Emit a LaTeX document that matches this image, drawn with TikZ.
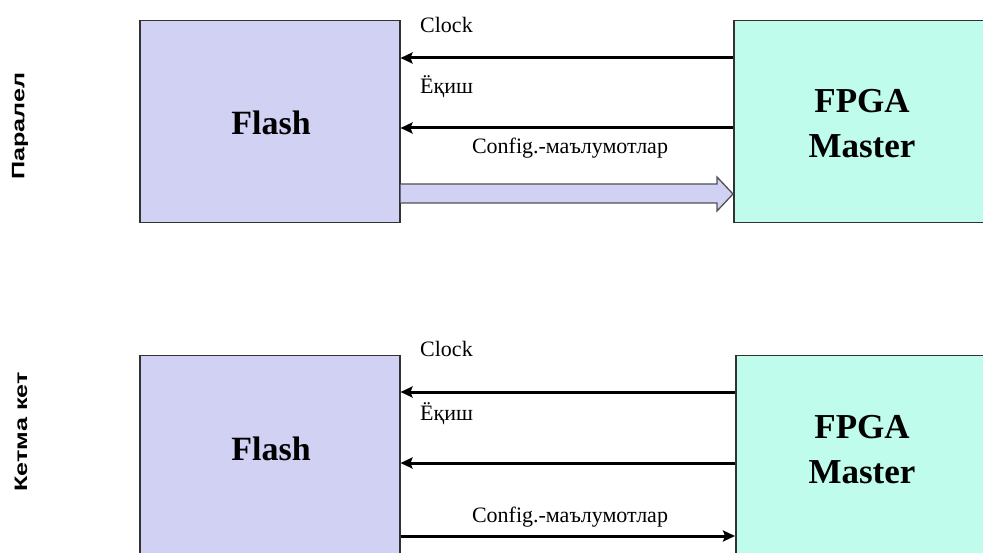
\documentclass[tikz,border=0pt]{standalone}
\usepackage{fontspec}
\setmainfont{Liberation Serif}
\newfontfamily\lsans{Liberation Sans}
\usetikzlibrary{arrows.meta}
\definecolor{flashcol}{RGB}{209,209,243}
\definecolor{fpgacol}{RGB}{191,252,235}
\definecolor{edgecol}{RGB}{50,50,50}
\tikzset{
  box/.style={draw=edgecol, line width=1.5pt, inner sep=0pt, anchor=north west},
  flashbox/.style={box, fill=flashcol, minimum width=260pt},
  fpgabox/.style={box, fill=fpgacol, minimum width=250pt},
  sig/.style={line width=3pt, -{Stealth[length=12pt,width=11pt,inset=2pt]}},
  bigarrow/.style={draw=edgecol!85, line width=1.3pt, fill=flashcol},
  lbl/.style={font=\fontsize{22}{24}\selectfont, inner sep=0pt},
  big/.style={font=\fontsize{35}{40}\selectfont\bfseries, inner sep=0pt, anchor=base},
  side/.style={font=\lsans\bfseries\fontsize{18}{20}\selectfont, rotate=90, inner sep=0pt, xscale=1.4}
}
\begin{document}
\begin{tikzpicture}[x=1pt,y=-1pt]
\useasboundingbox (0,0) rectangle (983,553);
% top group
\node[flashbox, minimum height=202pt] (flashA) at (139,20) {};
\node[fpgabox, minimum height=202pt] (fpgaA) at (733,20) {};
\node[big, font=\fontsize{34}{40}\selectfont\bfseries] (flashAt) at (271,135) {Flash};
\node[big] (fpgaAt1) at (862,113) {FPGA};
\node[big] (fpgaAt2) at (862,158) {Master};
\draw[sig] (fpgaA.west |- 0,58) -- (flashA.east |- 0,58);
\draw[sig] (fpgaA.west |- 0,128) -- (flashA.east |- 0,128);
\path[bigarrow] (flashA.east |- 0,184) -- (717,184) -- (717,177) -- (fpgaA.west |- 0,194) -- (717,211) -- (717,203) -- (flashA.east |- 0,203);
\node[lbl, anchor=base west] (clkA) at (420,33) {Clock};
\node[lbl, anchor=base west] (enA) at (420,94) {Ёқиш};
\node[lbl, anchor=base] (cfgA) at (570,154) {Config.-маълумотлар};
\node[side] (parA) at (20,126) {Паралел};
% bottom group
\node[flashbox, minimum height=220pt] (flashB) at (139,355) {};
\node[fpgabox, minimum height=220pt] (fpgaB) at (735,355) {};
\node[big, font=\fontsize{34}{40}\selectfont\bfseries] (flashBt) at (271,460) {Flash};
\node[big] (fpgaBt1) at (862,438) {FPGA};
\node[big] (fpgaBt2) at (862,483) {Master};
\draw[sig] (fpgaB.west |- 0,392) -- (flashB.east |- 0,392);
\draw[sig] (fpgaB.west |- 0,463) -- (flashB.east |- 0,463);
\draw[sig] (flashB.east |- 0,536) -- (fpgaB.west |- 0,536);
\node[lbl, anchor=base west] (clkB) at (420,357) {Clock};
\node[lbl, anchor=base west] (enB) at (420,420) {Ёқиш};
\node[lbl, anchor=base] (cfgB) at (570,522) {Config.-маълумотлар};
\node[side] (serB) at (21,432) {Кетма кет};
\end{tikzpicture}
\end{document}
